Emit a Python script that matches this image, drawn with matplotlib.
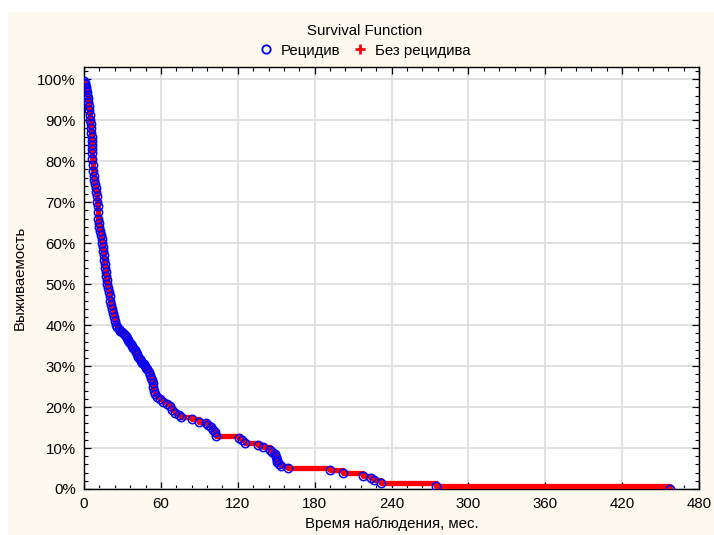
import matplotlib
matplotlib.use("Agg")
import matplotlib.pyplot as plt
from matplotlib.lines import Line2D
from matplotlib.patches import Rectangle
from matplotlib.ticker import MultipleLocator, FuncFormatter
import numpy as np

plt.rcParams['font.family'] = ['Liberation Sans', 'DejaVu Sans']

# Event times (months) and survival (%) at each event (relapse)
event_times = [
    0.3, 0.6, 1.0, 1.4, 1.8, 2.2, 2.6, 3.0, 3.4, 3.8,
    4.2, 4.6, 5.0, 5.3, 5.6, 5.8, 6.0, 6.1, 6.2, 6.3,
    6.4, 6.6, 6.9, 7.3, 7.7, 8.1, 8.5, 9.0, 9.5, 9.9,
    10.3, 10.6, 10.9, 11.2, 11.6, 12.0, 12.6, 13.3, 13.8, 14.2,
    14.6, 15.0, 15.4, 15.8, 16.2, 16.6, 17.0, 17.4, 17.8, 18.3,
    18.8, 19.4, 20.0, 20.6, 21.3, 22.0, 22.9, 23.6, 24.2, 25.0,
    26.0, 27.0, 28.0, 29.5, 31.0, 32.5, 33.5, 34.6, 35.5, 36.5,
    37.5, 38.5, 39.5, 40.5, 41.5, 42.4, 43.5, 44.5, 45.5, 46.5,
    47.5, 48.5, 49.5, 50.5, 51.5, 52.3, 53.0, 53.6, 54.1, 54.6,
    55.5, 56.7, 59, 62, 65, 67, 69, 71, 74, 76,
    84, 90, 95, 97, 99, 101, 102, 103, 121, 123,
    126, 136, 140, 145, 147, 149, 150, 150.5, 151, 152,
    154, 159, 192, 202, 218, 224, 226, 232, 275, 457,
]
event_surv = [
    99.6, 99.2, 98.8, 98.2, 97.6, 97.0, 96.2, 95.5, 94.5, 93.5,
    92.5, 91.2, 90.0, 89.0, 88.0, 87.0, 86.0, 85.0, 84.0, 83.0,
    82.0, 80.5, 79.0, 77.5, 76.5, 75.5, 74.5, 73.5, 72.5, 71.5,
    70.0, 69.0, 67.5, 66.0, 65.0, 64.0, 63.0, 62.0, 61.0, 60.0,
    59.0, 58.0, 57.0, 56.0, 55.0, 54.0, 53.0, 52.0, 51.0, 50.0,
    49.0, 48.0, 47.0, 46.0, 45.0, 44.0, 43.0, 42.0, 41.0, 40.0,
    39.5, 39.0, 38.6, 38.2, 37.8, 37.3, 36.8, 36.4, 35.9, 35.4,
    34.9, 34.4, 33.9, 33.4, 32.9, 32.3, 31.8, 31.3, 30.8, 30.4,
    30.0, 29.6, 29.2, 28.6, 27.9, 27.2, 26.5, 25.8, 25.0, 24.0,
    23.2, 22.5, 22.0, 21.3, 20.8, 20.2, 19.2, 18.6, 18.0, 17.5,
    17.0, 16.4, 16.0, 15.6, 15.1, 14.5, 13.8, 13.0, 12.5, 12.0,
    11.3, 10.8, 10.2, 9.5, 9.0, 8.5, 7.8, 7.2, 6.6, 6.0,
    5.6, 5.1, 4.7, 4.0, 3.2, 2.7, 2.2, 1.4, 0.7, 0.0,
]

x_ticks = [0, 60, 120, 180, 240, 300, 360, 420, 480]
y_ticks = [0, 10, 20, 30, 40, 50, 60, 70, 80, 90, 100]

title = "Survival Function"
label_events = "Рецидив"
label_censored = "Без рецидива"
xlabel = "Время наблюдения, мес."
ylabel = "Выживаемость"

FS = 10.8
W, H = 714, 535
fig = plt.figure(figsize=(W / 100, H / 100), dpi=100)
fig.patch.set_facecolor('white')
cream = '#fdf9ee'
fig.patches.append(Rectangle((8 / W, 0), 1 - 8 / W, 1 - 12 / H,
                             transform=fig.transFigure, facecolor=cream,
                             edgecolor='none', zorder=-10))

ax = fig.add_axes([84 / W, 1 - 489 / H, (699 - 84) / W, (489 - 67) / H])
ax.set_facecolor('white')

# Step (survival) curve
st = [0.0] + list(event_times)
ss = [100.0] + list(event_surv)
ax.step(st, np.array(ss) / 100, where='post', color='#ff0000', lw=3.8,
        solid_capstyle='butt', zorder=3)
ax.plot(np.array(event_times), np.array(event_surv) / 100, linestyle='none',
        marker='o', markersize=6.0, markerfacecolor='none',
        markeredgecolor='#0000ff', markeredgewidth=1.1, zorder=4)

ax.set_xlim(0, 480)
ax.set_ylim(0, 1.03)
ax.set_xticks(x_ticks)
ax.set_yticks(np.array(y_ticks) / 100)
ax.xaxis.set_minor_locator(MultipleLocator(12))
ax.yaxis.set_minor_locator(MultipleLocator(0.02))
ax.yaxis.set_major_formatter(FuncFormatter(lambda v, p: f"{v * 100:.0f}%"))
ax.tick_params(which='both', direction='in', top=True, right=True,
               labelsize=FS, colors='black', pad=6)
ax.tick_params(which='major', length=5, width=0.9)
ax.tick_params(which='minor', length=3, width=0.8)
ax.grid(True, which='major', color='#dedede', lw=1.3, zorder=0)
ax.set_axisbelow(True)
for s in ax.spines.values():
    s.set_color('black')
    s.set_linewidth(1.0)

ax.set_xlabel(xlabel, fontsize=FS)
ax.set_ylabel(ylabel, fontsize=FS)
ax.xaxis.set_label_coords(0.5, -(524 - 489) / (489 - 67), transform=ax.transAxes)
ax.xaxis.label.set_verticalalignment('center')
ax.yaxis.set_label_coords(-(84 - 20) / (699 - 84), 0.5)
ax.yaxis.label.set_verticalalignment('center')

handles = [
    Line2D([], [], linestyle='none', marker='o', markersize=6,
           markerfacecolor='none', markeredgecolor='#0000ff', markeredgewidth=1.3),
    Line2D([], [], linestyle='none', marker='+', markersize=7,
           markeredgecolor='#ff0000', markeredgewidth=2),
]
leg = fig.legend(handles, [label_events, label_censored], loc='upper center',
                 bbox_to_anchor=(365 / W, 1 - 18 / H), ncol=2, frameon=False,
                 title=title, fontsize=FS, title_fontsize=FS,
                 handletextpad=0.6, columnspacing=0.9, handlelength=0.8,
                 borderaxespad=0, labelspacing=0.2)
leg._legend_box.sep = 4

fig.savefig('out.png', dpi=100, facecolor=fig.get_facecolor())
